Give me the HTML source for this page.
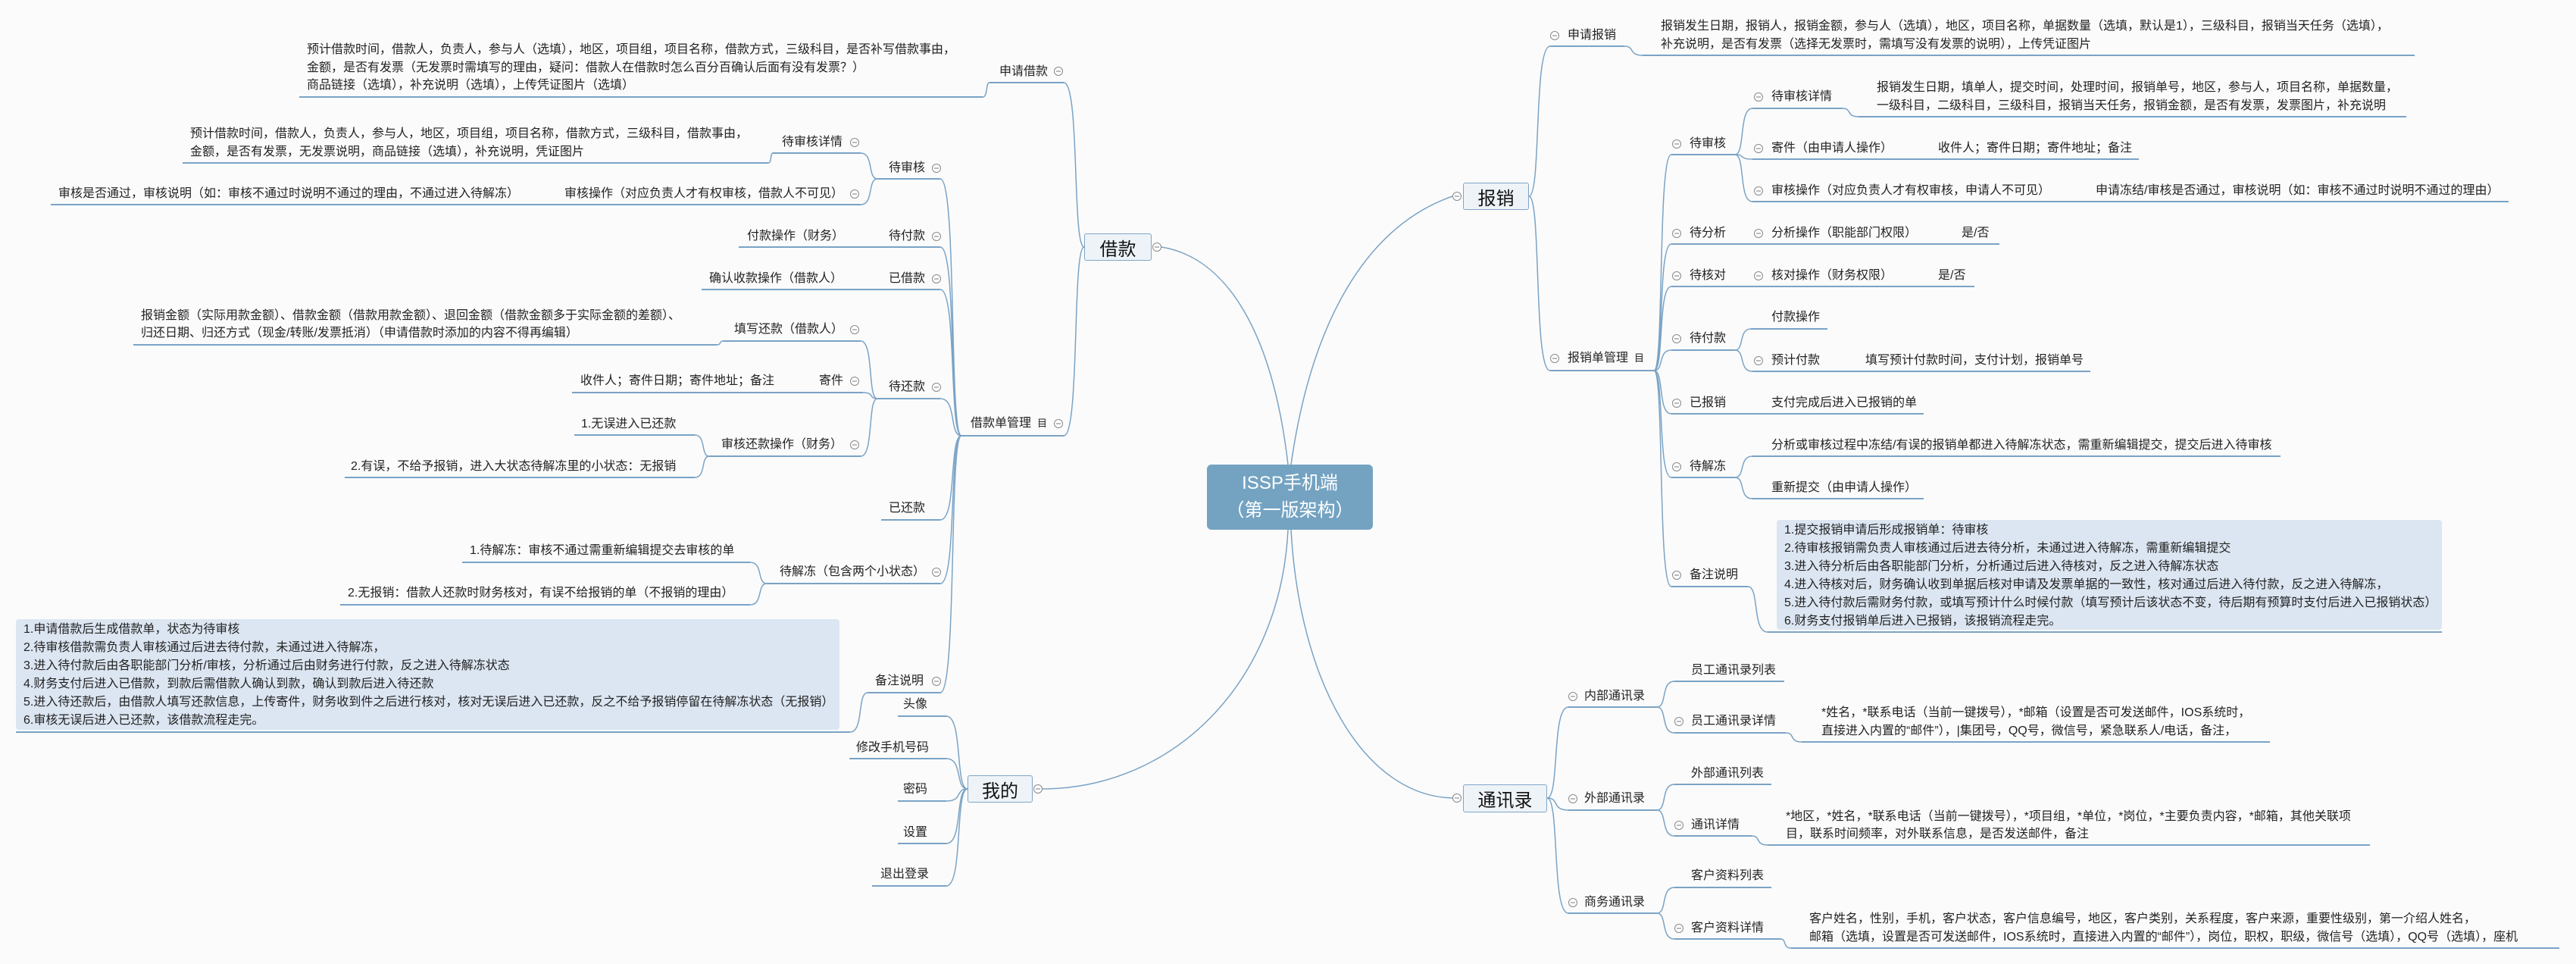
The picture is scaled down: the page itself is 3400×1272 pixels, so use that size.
<!DOCTYPE html>
<html><head><meta charset="utf-8">
<style>
html,body{margin:0;padding:0;}
body{width:3400px;height:1272px;position:relative;overflow:hidden;background:#fbfbfb;font-family:"Liberation Sans","Noto Sans CJK SC",sans-serif;color:#222;}
.t{position:absolute;font-size:16px;line-height:22px;white-space:nowrap;}
.m{position:absolute;font-size:16px;line-height:24px;white-space:nowrap;}
.box{position:absolute;box-sizing:border-box;background:#eef3f8;border:1.5px solid #7fa6c8;border-radius:3px;font-size:24px;display:flex;align-items:center;justify-content:center;color:#111;}
.note{position:absolute;background:#dce6f2;border-radius:4px;}
svg{position:absolute;left:0;top:0;}
</style></head><body>
<svg id="lines" width="3400" height="1272"></svg>

<div class="box" style="left:1593px;top:613px;width:219px;height:86px;background:#74a3c2;border:none;border-radius:6px;color:#fff;flex-direction:column;line-height:36px;"><div>ISSP手机端</div><div>（第一版架构）</div></div>

<!-- LEFT: 借款 -->
<div class="box" style="left:1431px;top:308px;width:89px;height:36px;">借款</div>
<div class="t" style="left:1319px;top:84px">申请借款</div>
<div class="m" style="left:405px;top:54px;line-height:23.5px">预计借款时间，借款人，负责人，参与人（选填），地区，项目组，项目名称，借款方式，三级科目，是否补写借款事由，<br>金额，是否有发票（无发票时需填写的理由，疑问：借款人在借款时怎么百分百确认后面有没有发票？）<br>商品链接（选填），补充说明（选填），上传凭证图片（选填）</div>
<div class="t" style="left:1032px;top:177px">待审核详情</div>
<div class="m" style="left:251px;top:165px">预计借款时间，借款人，负责人，参与人，地区，项目组，项目名称，借款方式，三级科目，借款事由，<br>金额，是否有发票，无发票说明，商品链接（选填），补充说明，凭证图片</div>
<div class="t" style="left:1173px;top:211px">待审核</div>
<div class="t" style="left:77px;top:245px">审核是否通过，审核说明（如：审核不通过时说明不通过的理由，不通过进入待解冻）</div>
<div class="t" style="left:745px;top:245px">审核操作（对应负责人才有权审核，借款人不可见）</div>
<div class="t" style="left:986px;top:301px">付款操作（财务）</div>
<div class="t" style="left:1173px;top:301px">待付款</div>
<div class="t" style="left:936px;top:357px">确认收款操作（借款人）</div>
<div class="t" style="left:1173px;top:357px">已借款</div>
<div class="m" style="left:186px;top:405px;line-height:23px">报销金额（实际用款金额）、借款金额（借款用款金额）、退回金额（借款金额多于实际金额的差额）、<br>归还日期、归还方式（现金/转账/发票抵消）（申请借款时添加的内容不得再编辑）</div>
<div class="t" style="left:969px;top:424px">填写还款（借款人）</div>
<div class="t" style="left:766px;top:492px">收件人；寄件日期；寄件地址；备注</div>
<div class="t" style="left:1081px;top:492px">寄件</div>
<div class="t" style="left:1173px;top:500px">待还款</div>
<div class="t" style="left:1281px;top:548px">借款单管理</div>
<div class="t" style="left:1369px;top:548px;font-size:13px">目</div>
<div class="t" style="left:767px;top:549px">1.无误进入已还款</div>
<div class="t" style="left:952px;top:576px">审核还款操作（财务）</div>
<div class="t" style="left:463px;top:605px">2.有误，不给予报销，进入大状态待解冻里的小状态：无报销</div>
<div class="t" style="left:1173px;top:660px">已还款</div>
<div class="t" style="left:620px;top:716px">1.待解冻：审核不通过需重新编辑提交去审核的单</div>
<div class="t" style="left:1029px;top:744px">待解冻（包含两个小状态）</div>
<div class="t" style="left:459px;top:772px">2.无报销：借款人还款时财务核对，有误不给报销的单（不报销的理由）</div>
<div class="note" style="left:21px;top:817px;width:1087px;height:146px"></div>
<div class="m" style="left:31px;top:819px">1.申请借款后生成借款单，状态为待审核<br>2.待审核借款需负责人审核通过后进去待付款，未通过进入待解冻，<br>3.进入待付款后由各职能部门分析/审核，分析通过后由财务进行付款，反之进入待解冻状态<br>4.财务支付后进入已借款，到款后需借款人确认到款，确认到款后进入待还款<br>5.进入待还款后，由借款人填写还款信息，上传寄件，财务收到件之后进行核对，核对无误后进入已还款，反之不给予报销停留在待解冻状态（无报销）<br>6.审核无误后进入已还款，该借款流程走完。</div>
<div class="t" style="left:1155px;top:888px">备注说明</div>

<!-- 我的 -->
<div class="box" style="left:1277px;top:1023px;width:86px;height:36px;">我的</div>
<div class="t" style="left:1192px;top:919px">头像</div>
<div class="t" style="left:1130px;top:976px">修改手机号码</div>
<div class="t" style="left:1192px;top:1031px">密码</div>
<div class="t" style="left:1192px;top:1088px">设置</div>
<div class="t" style="left:1162px;top:1143px">退出登录</div>

<!-- RIGHT: 报销 -->
<div class="box" style="left:1931px;top:241px;width:87px;height:36px;">报销</div>
<div class="t" style="left:2069px;top:36px">申请报销</div>
<div class="m" style="left:2192px;top:23px">报销发生日期，报销人，报销金额，参与人（选填），地区，项目名称，单据数量（选填，默认是1），三级科目，报销当天任务（选填），<br>补充说明，是否有发票（选择无发票时，需填写没有发票的说明），上传凭证图片</div>
<div class="t" style="left:2230px;top:179px">待审核</div>
<div class="t" style="left:2338px;top:117px">待审核详情</div>
<div class="m" style="left:2477px;top:104px">报销发生日期，填单人，提交时间，处理时间，报销单号，地区，参与人，项目名称，单据数量，<br>一级科目，二级科目，三级科目，报销当天任务，报销金额，是否有发票，发票图片，补充说明</div>
<div class="t" style="left:2338px;top:185px">寄件（由申请人操作）</div>
<div class="t" style="left:2558px;top:185px">收件人；寄件日期；寄件地址；备注</div>
<div class="t" style="left:2338px;top:241px">审核操作（对应负责人才有权审核，申请人不可见）</div>
<div class="t" style="left:2766px;top:241px">申请冻结/审核是否通过，审核说明（如：审核不通过时说明不通过的理由）</div>
<div class="t" style="left:2230px;top:297px">待分析</div>
<div class="t" style="left:2338px;top:297px">分析操作（职能部门权限）</div>
<div class="t" style="left:2589px;top:297px">是/否</div>
<div class="t" style="left:2230px;top:353px">待核对</div>
<div class="t" style="left:2338px;top:353px">核对操作（财务权限）</div>
<div class="t" style="left:2558px;top:353px">是/否</div>
<div class="t" style="left:2338px;top:408px">付款操作</div>
<div class="t" style="left:2230px;top:436px">待付款</div>
<div class="t" style="left:2069px;top:462px">报销单管理</div>
<div class="t" style="left:2157px;top:462px;font-size:13px">目</div>
<div class="t" style="left:2338px;top:465px">预计付款</div>
<div class="t" style="left:2462px;top:465px">填写预计付款时间，支付计划，报销单号</div>
<div class="t" style="left:2230px;top:521px">已报销</div>
<div class="t" style="left:2338px;top:521px">支付完成后进入已报销的单</div>
<div class="t" style="left:2338px;top:577px">分析或审核过程中冻结/有误的报销单都进入待解冻状态，需重新编辑提交，提交后进入待审核</div>
<div class="t" style="left:2230px;top:605px">待解冻</div>
<div class="t" style="left:2338px;top:633px">重新提交（由申请人操作）</div>
<div class="note" style="left:2345px;top:686px;width:878px;height:145px"></div>
<div class="m" style="left:2355px;top:688px">1.提交报销申请后形成报销单：待审核<br>2.待审核报销需负责人审核通过后进去待分析，未通过进入待解冻，需重新编辑提交<br>3.进入待分析后由各职能部门分析，分析通过后进入待核对，反之进入待解冻状态<br>4.进入待核对后，财务确认收到单据后核对申请及发票单据的一致性，核对通过后进入待付款，反之进入待解冻，<br>5.进入待付款后需财务付款，或填写预计什么时候付款（填写预计后该状态不变，待后期有预算时支付后进入已报销状态）<br>6.财务支付报销单后进入已报销，该报销流程走完。</div>
<div class="t" style="left:2230px;top:748px">备注说明</div>

<!-- 通讯录 -->
<div class="box" style="left:1931px;top:1035px;width:111px;height:37px;">通讯录</div>
<div class="t" style="left:2091px;top:908px">内部通讯录</div>
<div class="t" style="left:2232px;top:874px">员工通讯录列表</div>
<div class="t" style="left:2232px;top:941px">员工通讯录详情</div>
<div class="m" style="left:2404px;top:929px">*姓名，*联系电话（当前一键拨号），*邮箱（设置是否可发送邮件，IOS系统时，<br>直接进入内置的“邮件”），|集团号，QQ号，微信号，紧急联系人/电话，备注，</div>
<div class="t" style="left:2091px;top:1043px">外部通讯录</div>
<div class="t" style="left:2232px;top:1010px">外部通讯列表</div>
<div class="t" style="left:2232px;top:1078px">通讯详情</div>
<div class="m" style="left:2357px;top:1066px;line-height:23px">*地区，*姓名，*联系电话（当前一键拨号），*项目组，*单位，*岗位，*主要负责内容，*邮箱，其他关联项<br>目，联系时间频率，对外联系信息，是否发送邮件，备注</div>
<div class="t" style="left:2091px;top:1180px">商务通讯录</div>
<div class="t" style="left:2232px;top:1145px">客户资料列表</div>
<div class="t" style="left:2232px;top:1214px">客户资料详情</div>
<div class="m" style="left:2388px;top:1201px">客户姓名，性别，手机，客户状态，客户信息编号，地区，客户类别，关系程度，客户来源，重要性级别，第一介绍人姓名，<br>邮箱（选填，设置是否可发送邮件，IOS系统时，直接进入内置的“邮件”），岗位，职权，职级，微信号（选填），QQ号（选填），座机</div>

<script>
var NS='http://www.w3.org/2000/svg';
var svg=document.getElementById('lines');
var COL='#7aa3c5';
var underlines=[
[1306,1404,109],[395,1297,128],[1020,1136,202],[241,1014,215],[1158,1241,236],[67,1136,270],[975,1241,326],[926,1241,382],[954,1136,450],[176,946,455],[755,1139,518],[1158,1241,526],[1269,1404,575],[758,917,574],[936,1136,602],[455,917,630],[1163,1241,686],[610,990,742],[1012,1241,770],[449,990,798],[21,1122,966],[1145,1241,914],[1185,1249,945],[1121,1249,1001],[1185,1249,1057],[1185,1249,1113],[1151,1249,1169],
[2046,2144,61],[2168,3187,73],[2206,2290,204],[2313,2432,143],[2453,3176,154],[2313,2823,210],[2313,3311,266],[2206,2639,322],[2206,2606,378],[2311,2412,434],[2206,2290,462],[2046,2183,489],[2313,2759,490],[2206,2539,546],[2313,3010,602],[2206,2290,630],[2313,2539,658],[2206,2307,774],[2333,3223,834],
[2070,2187,933],[2210,2355,899],[2210,2357,967],[2378,2996,979],[2070,2187,1069],[2210,2338,1035],[2210,2312,1103],[2333,3128,1115],[2070,2187,1205],[2210,2338,1171],[2210,2350,1239],[2364,3378,1251]
];
var links=[
[1431,326,1404,109],[1431,326,1404,575],[1306,109,1297,128],
[1269,575,1241,236],[1269,575,1241,326],[1269,575,1241,382],[1269,575,1241,526],[1269,575,1241,686],[1269,575,1241,770],[1269,575,1241,914],
[1158,236,1136,202],[1158,236,1136,270],[1020,202,1014,215],
[1158,526,1136,450],[1158,526,1139,518],[1158,526,1136,602],[954,450,946,455],
[936,602,917,574],[936,602,917,630],[1012,770,990,742],[1012,770,990,798],[1145,914,1122,966],
[1277,1041,1249,945],[1277,1041,1249,1001],[1277,1041,1249,1057],[1277,1041,1249,1113],[1277,1041,1249,1169],
[2018,259,2046,61],[2018,259,2046,489],[2144,61,2168,73],
[2183,489,2206,204],[2183,489,2206,322],[2183,489,2206,378],[2183,489,2206,462],[2183,489,2206,546],[2183,489,2206,630],[2183,489,2206,774],
[2290,204,2313,143],[2290,204,2313,210],[2290,204,2313,266],[2432,143,2453,154],
[2290,462,2311,434],[2290,462,2313,490],[2290,630,2313,602],[2290,630,2313,658],[2307,774,2333,834],
[2042,1053,2070,933],[2042,1053,2070,1069],[2042,1053,2070,1205],
[2187,933,2210,899],[2187,933,2210,967],[2357,967,2378,979],
[2187,1069,2210,1035],[2187,1069,2210,1103],[2312,1103,2333,1115],
[2187,1205,2210,1171],[2187,1205,2210,1239],[2350,1239,2364,1251]
];
var rootCurves=[
'M1700 613 C1680 440 1620 340 1533 326',
'M1704 613 C1730 430 1800 300 1917 259',
'M1700 699 C1690 900 1550 1040 1376 1041',
'M1704 699 C1715 900 1800 1050 1917 1053'
];
var circles=[
[1397,94],[1128,188],[1236,222],[1128,256],[1236,312],[1236,368],[1128,435],[1128,503],[1236,511],[1397,559],[1128,587],[1236,755],[1236,899],[1527,326],[1370,1041],
[1923,259],[2052,47],[2213,190],[2321,128],[2321,196],[2321,252],[2213,308],[2321,308],[2213,364],[2321,364],[2213,447],[2052,473],[2321,476],[2213,532],[2213,616],[2213,759],
[1923,1053],[2076,919],[2216,952],[2076,1054],[2216,1089],[2076,1191],[2216,1225]
];
for(var i=0;i<underlines.length;i++){
  var u=underlines[i];
  var l=document.createElementNS(NS,'line');
  
  
  l.setAttribute('x1',u[0]);l.setAttribute('x2',u[1]);l.setAttribute('y1',u[2]);l.setAttribute('y2',u[2]);
  l.setAttribute('stroke',COL);l.setAttribute('stroke-width','2');
  svg.appendChild(l);
}
for(var j=0;j<links.length;j++){
  var k=links[j];
  var x1=k[0],y1=k[1],x2=k[2],y2=k[3];
  var dx=x2-x1;
  var d='M'+x1+' '+y1+' C'+(x1+dx*0.6)+' '+y1+' '+(x1+dx*0.2)+' '+y2+' '+x2+' '+y2;
  var p=document.createElementNS(NS,'path');
  
  
  p.setAttribute('d',d);p.setAttribute('fill','none');p.setAttribute('stroke',COL);p.setAttribute('stroke-width','1.5');
  svg.appendChild(p);
}
for(var r=0;r<rootCurves.length;r++){
  var q=document.createElementNS(NS,'path');
  
  
  q.setAttribute('d',rootCurves[r]);q.setAttribute('fill','none');q.setAttribute('stroke',COL);q.setAttribute('stroke-width','1.5');
  svg.appendChild(q);
}
for(var c=0;c<circles.length;c++){
  var cc=circles[c];
  var g=document.createElementNS(NS,'g');
  
  
  var ci=document.createElementNS(NS,'circle');
  ci.setAttribute('cx',cc[0]);ci.setAttribute('cy',cc[1]);ci.setAttribute('r','5.5');
  ci.setAttribute('fill','#fff');ci.setAttribute('stroke','#888');ci.setAttribute('stroke-width','1');
  g.appendChild(ci);
  var mn=document.createElementNS(NS,'line');
  mn.setAttribute('x1',cc[0]-3);mn.setAttribute('x2',cc[0]+3);mn.setAttribute('y1',cc[1]);mn.setAttribute('y2',cc[1]);
  mn.setAttribute('stroke','#777');mn.setAttribute('stroke-width','1');
  g.appendChild(mn);
  svg.appendChild(g);
}
</script>
</body></html>
